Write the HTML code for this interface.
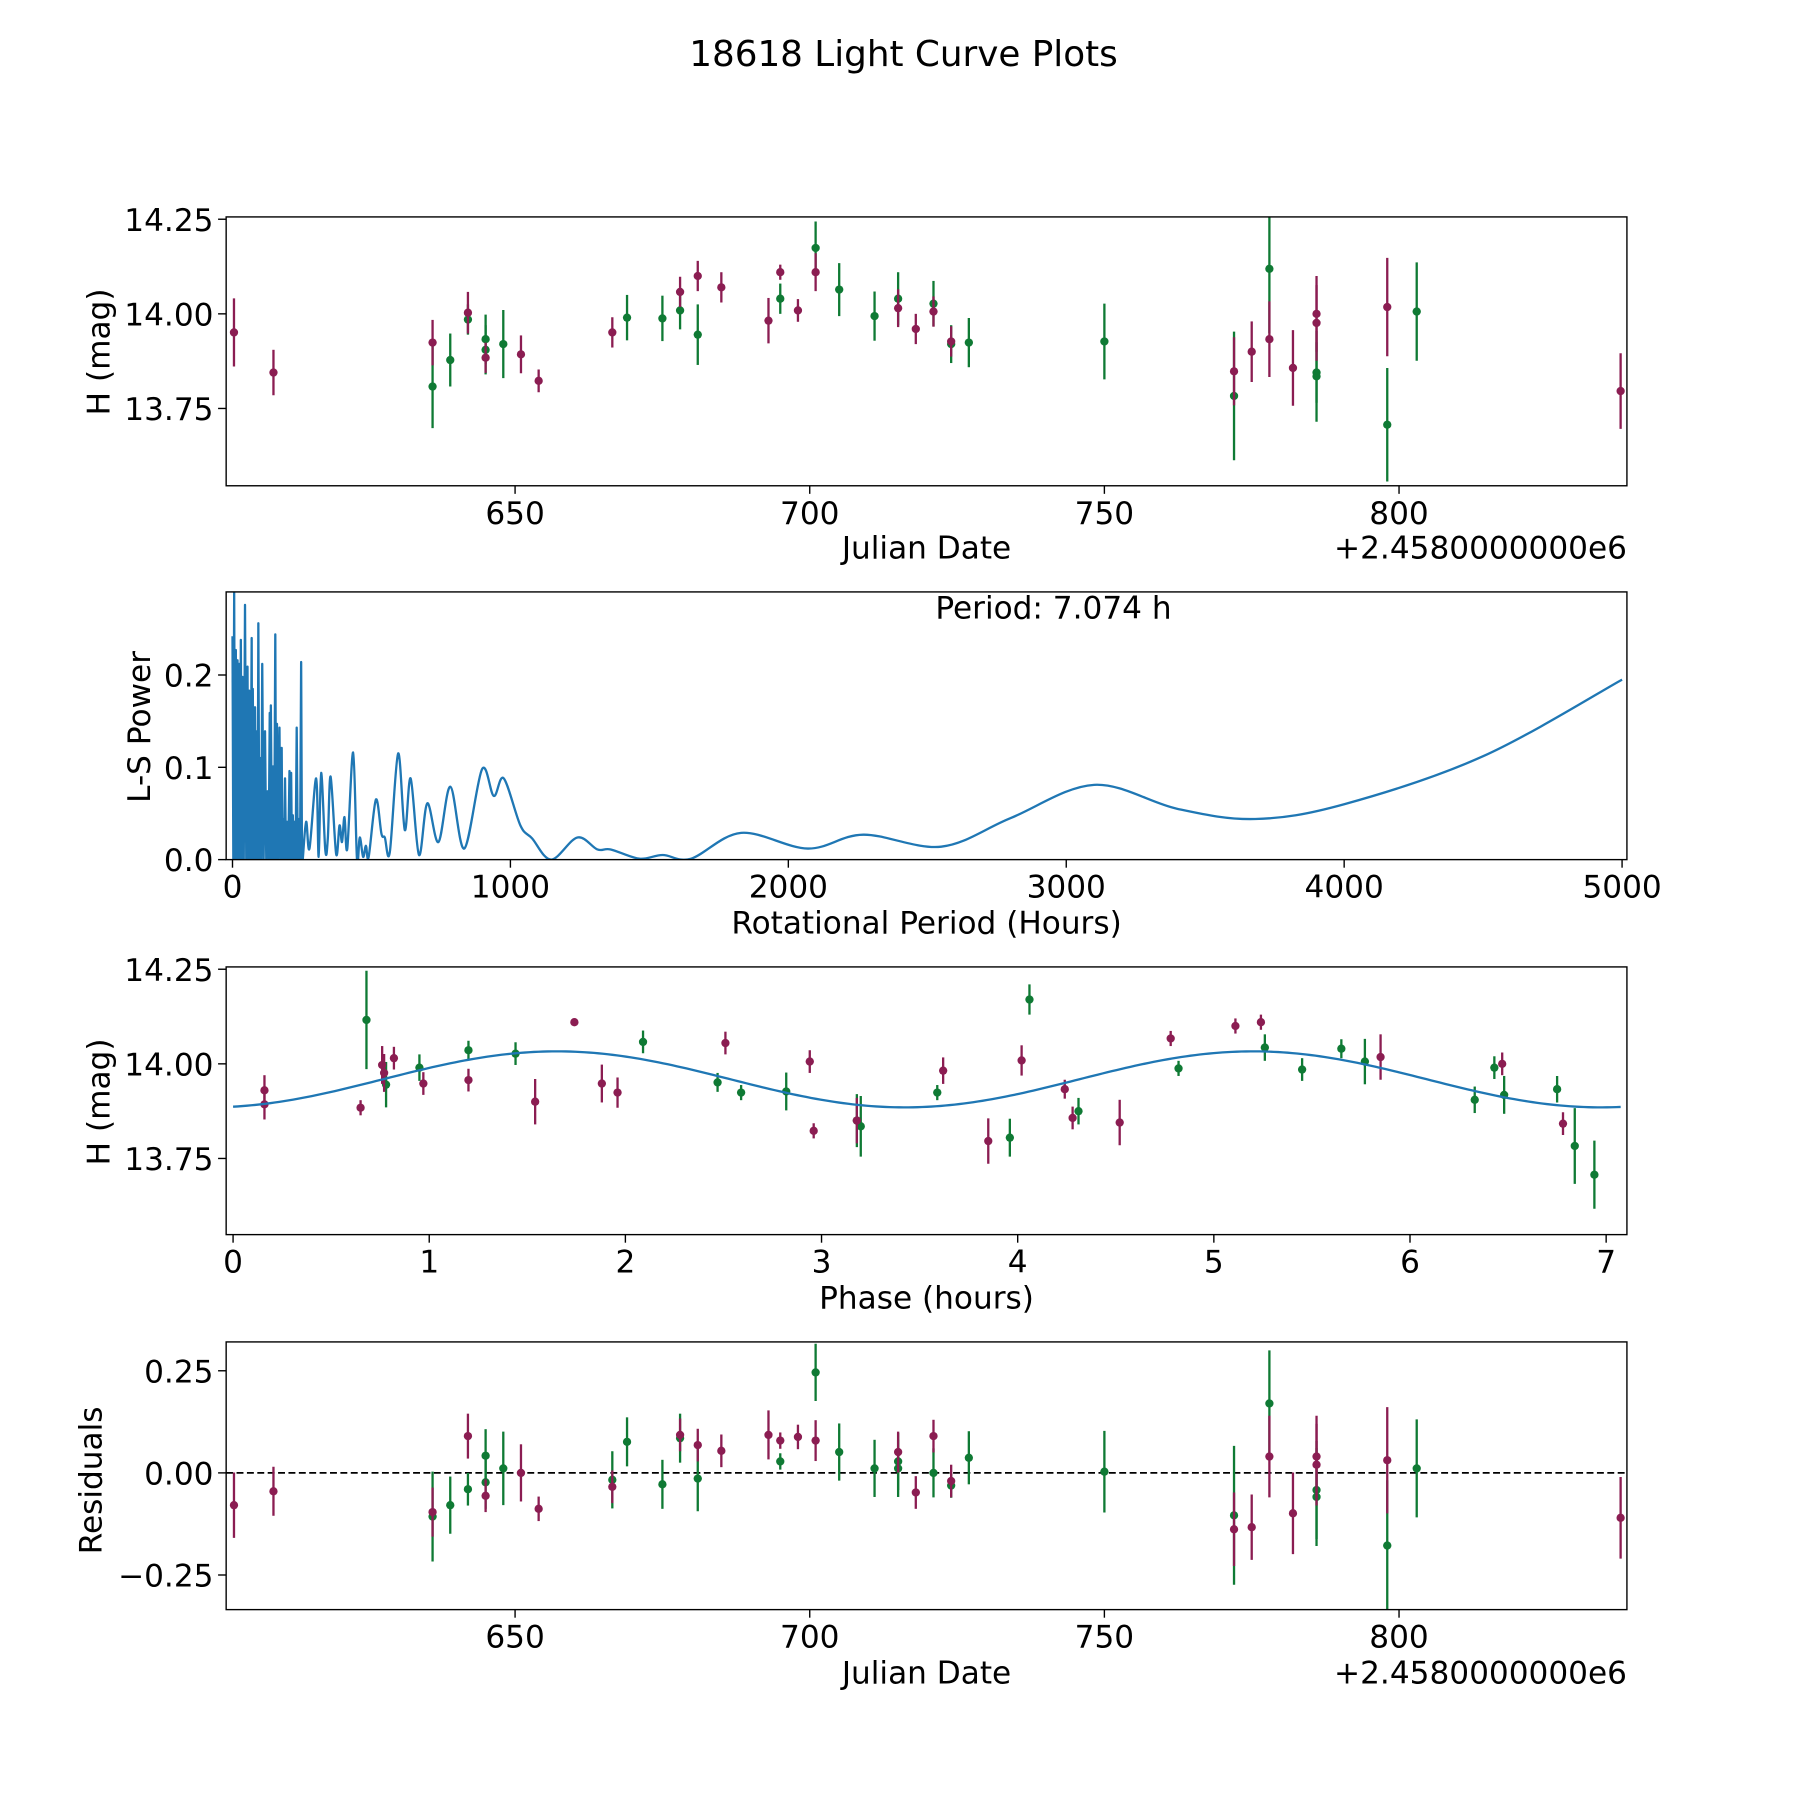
<!DOCTYPE html>
<html><head><meta charset="utf-8"><style>
html,body{margin:0;padding:0;background:#fff;}
svg{display:block;font-family:"DejaVu Sans","Liberation Sans",sans-serif;}
</style></head><body>
<svg id="fig" width="1800" height="1800" viewBox="0 0 1560 1560" xmlns="http://www.w3.org/2000/svg">
<rect width="1560" height="1560" fill="#fff"/>
<text x="783" y="57" font-size="31" text-anchor="middle">18618 Light Curve Plots</text>
<defs>
<clipPath id="c1"><rect x="196" y="188" width="1214" height="233"/></clipPath>
<clipPath id="c2"><rect x="196" y="513" width="1214" height="232"/></clipPath>
<clipPath id="c3"><rect x="196" y="838" width="1214" height="232"/></clipPath>
<clipPath id="c4"><rect x="196" y="1163" width="1214" height="232"/></clipPath>
</defs>
<g id="layer"></g>
</svg>
<script>
// ---- Panel 1: light curve vs Julian Date ----
const lcDates = [636,639,642,645,645,648,669,675,678,681,695,701,705,711,715,721,724,727,750,772,778,786,786,798,803,
 602.3,609,636,642,645,651,654,666.5,678,681,685,693,695,698,701,715,718,721,724,772,775,778,782,786,786,798,837.6];
const lcMags = [13.808,13.878,13.985,13.933,13.905,13.92,13.99,13.988,14.009,13.945,14.04,14.174,14.064,13.994,14.04,14.027,13.92,13.924,13.927,13.783,14.119,13.845,13.835,13.707,14.006,
 13.951,13.845,13.924,14.003,13.884,13.893,13.823,13.951,14.058,14.1,14.07,13.982,14.11,14.009,14.11,14.015,13.96,14.006,13.927,13.848,13.9,13.933,13.857,14.0,13.976,14.018,13.796];
const lcErrs = [0.11,0.07,0.04,0.065,0.065,0.09,0.06,0.06,0.05,0.08,0.04,0.07,0.07,0.065,0.07,0.06,0.05,0.065,0.1,0.17,0.17,0.08,0.12,0.15,0.13,
 0.09,0.06,0.06,0.055,0.04,0.05,0.03,0.04,0.04,0.04,0.04,0.06,0.02,0.03,0.05,0.05,0.04,0.04,0.04,0.09,0.08,0.1,0.1,0.1,0.1,0.13,0.1];
const lcFilters = "ggggggggggggggggggggggggg".split("").concat("mmmmmmmmmmmmmmmmmmmmmmmmmmm".split(""));

// ---- Panel 2: Lomb-Scargle periodogram ----
const spikePeriods = [0,6,12,18,24,30,36,45,54,60,69,73,81,88,93,100,107,117,126,134,138,146,154,160,169,177,182,189,196,205,211,217,223,231,239,247,253];
const spikePowers = [0.242,0.289,0.227,0.216,0.212,0.238,0.198,0.276,0.209,0.183,0.240,0.185,0.165,0.139,0.256,0.110,0.212,0.139,0.074,0.159,0.167,0.101,0.244,0.147,0.143,0.121,0.044,0.088,0.041,0.096,0.094,0.048,0.041,0.143,0.044,0.214,0.001];
const lsPeriods = [265,277,301,310,319,334,343,353,373,385,394,403,413,434,448,458,470,480,490,516,536,548,566,596,620,641,671,701,741,784,834,898,940,976,1036,1078,1147,1241,1313,1361,1464,1548,1650,1830,2070,2270,2550,2800,3100,3400,3680,4000,4500,5000];
const lsPowers = [0.041,0.012,0.088,0.003,0.094,0.010,0.023,0.09,0.006,0.037,0.019,0.046,0.012,0.116,0.0,0.024,0.003,0.015,0.003,0.065,0.028,0.024,0.008,0.115,0.032,0.088,0.005,0.061,0.019,0.079,0.012,0.098,0.069,0.088,0.037,0.023,0.0,0.024,0.011,0.011,0.001,0.005,0.001,0.029,0.012,0.027,0.014,0.045,0.081,0.055,0.044,0.06,0.112,0.195];
const periodLabel = "Period: 7.074 h";

// ---- Panel 3: phased light curve ----
const phPhases = [0.68,0.78,0.95,1.2,1.44,2.09,2.47,2.59,2.82,3.18,3.2,3.59,3.96,4.06,4.31,4.82,5.26,5.45,5.65,5.77,6.33,6.43,6.48,6.75,6.84,6.94,
 0.16,0.16,0.65,0.76,0.77,0.82,0.97,1.2,1.54,1.74,1.88,1.96,2.51,2.94,2.96,3.18,3.62,3.85,4.02,4.24,4.28,4.52,4.78,5.11,5.24,5.85,6.47,6.78];
const phMags = [14.116,13.945,13.99,14.036,14.027,14.058,13.951,13.924,13.927,13.85,13.835,13.924,13.805,14.17,13.875,13.988,14.043,13.985,14.04,14.006,13.905,13.99,13.918,13.933,13.783,13.707,
 13.893,13.93,13.884,13.997,13.976,14.015,13.948,13.957,13.9,14.11,13.948,13.924,14.055,14.006,13.823,13.85,13.982,13.796,14.009,13.933,13.857,13.845,14.067,14.1,14.11,14.018,14.0,13.842];
const phErrs = [0.13,0.06,0.035,0.025,0.03,0.03,0.025,0.02,0.05,0.07,0.08,0.02,0.05,0.04,0.035,0.02,0.035,0.03,0.025,0.06,0.035,0.03,0.05,0.035,0.1,0.09,
 0.04,0.04,0.02,0.05,0.05,0.03,0.03,0.03,0.06,0.01,0.05,0.04,0.03,0.03,0.02,0.06,0.035,0.06,0.04,0.025,0.03,0.06,0.02,0.02,0.02,0.06,0.03,0.03];
const phFilters = "gggggggggggggggggggggggggg".split("").concat("mmmmmmmmmmmmmmmmmmmmmmmmmmmm".split(""));
const fitMean = [13.959];
const fitAmp = [0.074];
const fitPeak = [1.65];
const fitCycle = [3.55];

// ---- Panel 4: residuals ----
const resDates = [636,639,642,645,645,648,666.5,669,675,678,681,695,701,705,711,715,715,721,724,727,750,772,778,786,786,798,803,
 602.3,609,636,642,645,651,654,666.5,678,681,685,693,695,698,701,715,718,721,724,772,775,778,782,786,786,798,837.6];
const resVals = [-0.107,-0.079,-0.04,0.042,-0.023,0.011,-0.017,0.076,-0.028,0.085,-0.014,0.028,0.246,0.051,0.011,0.028,0.011,0.0,-0.031,0.037,0.003,-0.104,0.17,-0.042,-0.059,-0.178,0.011,
 -0.079,-0.045,-0.096,0.09,-0.056,0.0,-0.088,-0.034,0.093,0.068,0.054,0.093,0.079,0.088,0.079,0.051,-0.048,0.09,-0.02,-0.138,-0.133,0.04,-0.099,0.04,0.02,0.031,-0.11];
const resErrs = [0.11,0.07,0.04,0.065,0.065,0.09,0.07,0.06,0.06,0.06,0.08,0.02,0.07,0.07,0.07,0.07,0.07,0.06,0.03,0.065,0.1,0.17,0.13,0.12,0.12,0.16,0.12,
 0.08,0.06,0.06,0.055,0.04,0.07,0.03,0.04,0.04,0.04,0.04,0.06,0.02,0.03,0.05,0.05,0.04,0.04,0.04,0.09,0.08,0.1,0.1,0.1,0.1,0.13,0.1];
const resFilters = "ggggggggggggggggggggggggggg".split("").concat("mmmmmmmmmmmmmmmmmmmmmmmmmmm".split(""));

const xTicksJD = [650,700,750,800];
const yTicksMag = [14.25,14.00,13.75];
const xTicksPeriod = [0,1000,2000,3000,4000,5000];
const yTicksPower = [0.0,0.1,0.2];
const xTicksPhase = [0,1,2,3,4,5,6,7];
const yTicksRes = [0.25,0.0,-0.25];

const NS = "http://www.w3.org/2000/svg";
const layer = document.getElementById("layer");
const COL = {m:"#8b1d52", g:"#0f7a34"};
function lin(d0,d1,p0,p1){return v=>p0+(v-d0)*(p1-p0)/(d1-d0);}
function mk(tag,attrs,parent){const e=document.createElementNS(NS,tag);for(const k in attrs)e.setAttribute(k,attrs[k]);(parent||layer).appendChild(e);return e;}
function fmt(v,d){let s=v.toFixed(d);if(v<0)s="\u2212"+s.slice(1);return s;}

function axes(name,box,sx,sy,xt,xd,yt,yd){
  const g=mk("g",{});
  
  
  xt.forEach(v=>{const x=sx(v);
    const t=mk("line",{x1:x,x2:x,y1:box.y+box.h,y2:box.y+box.h+7,stroke:"#000","stroke-width":1.2},g);
    
    
    const l=mk("text",{x:x,y:box.y+box.h+33,"font-size":27,"text-anchor":"middle"},g);l.textContent=fmt(v,xd);
    
    });
  yt.forEach(v=>{const y=sy(v);
    const t=mk("line",{x1:box.x-7,x2:box.x,y1:y,y2:y,stroke:"#000","stroke-width":1.2},g);
    
    
    const l=mk("text",{x:box.x-11,y:y+10,"font-size":27,"text-anchor":"end"},g);l.textContent=fmt(v,yd);
    
    });
}
function frame(name,box){
  const r=mk("rect",{x:box.x,y:box.y,width:box.w,height:box.h,fill:"none",stroke:"#000","stroke-width":1.2});
  
  
}
function label(txt,x,y,rot,name){
  const t=mk("text",{x:x,y:y,"font-size":27,"text-anchor":"middle"});
  if(rot)t.setAttribute("transform","rotate(-90 "+x+" "+y+")");
  t.textContent=txt;
  
  
  return t;
}
function errPoints(name,clip,xs,ys,es,fs,sx,sy){
  const g=mk("g",{"clip-path":"url(#"+clip+")"});
  
  
  xs.forEach((xv,i)=>{const c=COL[fs[i]];const x=sx(xv);
    const b=mk("line",{x1:x,x2:x,y1:sy(ys[i]-es[i]),y2:sy(ys[i]+es[i]),stroke:c,"stroke-width":2},g);
    
    
    const p=mk("circle",{cx:x,cy:sy(ys[i]),r:3.6,fill:c},g);
    
    });
}

// Panel 1
const b1={x:196,y:188,w:1214,h:233};
const sx1=lin(650,800,446.4,1212.5), sy1=lin(14.25,13.75,190,354);
errPoints("lightcurve","c1",lcDates,lcMags,lcErrs,lcFilters,sx1,sy1);
frame("lightcurve",b1);
axes("lightcurve",b1,sx1,sy1,xTicksJD,0,yTicksMag,2);
label("Julian Date",803,484,false,"lightcurve-x-axis-title");
label("H (mag)",95,305,true,"lightcurve-y-axis-title");
let o1=label("+2.4580000000e6",1410,484,false,"lightcurve-x-offset");o1.setAttribute("text-anchor","end");

// Panel 2
const b2={x:196,y:513,w:1214,h:232};
const sx2=lin(0,5000,201.5,1405.8), sy2=lin(0,0.2,745,585);
{let d="";
 spikePeriods.forEach((p,i)=>{
   const x=sx2(p);
   if(i>0){const xm=(sx2(spikePeriods[i-1])+x)/2;d+=" L"+xm.toFixed(2)+","+sy2(0).toFixed(2);}
   d+=(i?" L":"M")+x.toFixed(2)+","+sy2(spikePowers[i]).toFixed(2);
 });
 const pts=lsPeriods.map((p,i)=>[sx2(p),sy2(lsPowers[i])]);
 const last=[sx2(spikePeriods[spikePeriods.length-1]),sy2(spikePowers[spikePowers.length-1])];
 const all=[last].concat(pts);
 for(let i=1;i<all.length;i++){
   const p0=all[i-2]||all[i-1],p1=all[i-1],p2=all[i],p3=all[i+1]||all[i];
   const c1=[p1[0]+(p2[0]-p0[0])/6,p1[1]+(p2[1]-p0[1])/6],c2=[p2[0]-(p3[0]-p1[0])/6,p2[1]-(p3[1]-p1[1])/6];
   d+=" C"+c1[0].toFixed(2)+","+c1[1].toFixed(2)+" "+c2[0].toFixed(2)+","+c2[1].toFixed(2)+" "+p2[0].toFixed(2)+","+p2[1].toFixed(2);
 }
 const ln=mk("path",{d:d,fill:"none",stroke:"#1f77b4","stroke-width":2,"clip-path":"url(#c2)","stroke-linejoin":"round"});
 
 }
frame("periodogram",b2);
axes("periodogram",b2,sx2,sy2,xTicksPeriod,0,yTicksPower,1);
label("Rotational Period (Hours)",803,809,false,"periodogram-x-axis-title");
label("L-S Power",130,630,true,"periodogram-y-axis-title");
label(periodLabel,913,536,false,"period-annotation");

// Panel 3
const b3={x:196,y:838,w:1214,h:232};
const sx3=lin(0,7,202,1392), sy3=lin(14.25,13.75,840,1004);
errPoints("phased","c3",phPhases,phMags,phErrs,phFilters,sx3,sy3);
{let d="";const P=7.074;for(let k=0;k<=300;k++){const ph=P*k/300;
  const m=fitMean[0]+fitAmp[0]*Math.cos(2*Math.PI*(ph-fitPeak[0])/fitCycle[0]);
  d+=(k?" L":"M")+sx3(ph).toFixed(2)+","+sy3(m).toFixed(2);}
 const c=mk("path",{d:d,fill:"none",stroke:"#1f77b4","stroke-width":2});
 
 }
frame("phased",b3);
axes("phased",b3,sx3,sy3,xTicksPhase,0,yTicksMag,2);
label("Phase (hours)",803,1134,false,"phased-x-axis-title");
label("H (mag)",95,955,true,"phased-y-axis-title");

// Panel 4
const b4={x:196,y:1163,w:1214,h:232};
const sx4=sx1, sy4=lin(0.25,-0.25,1188,1365);
{const z=mk("line",{x1:196,x2:1410,y1:sy4(0),y2:sy4(0),stroke:"#000","stroke-width":1.5,"stroke-dasharray":"6,3"});
 
 }
errPoints("residuals","c4",resDates,resVals,resErrs,resFilters,sx4,sy4);
frame("residuals",b4);
axes("residuals",b4,sx4,sy4,xTicksJD,0,yTicksRes,2);
label("Julian Date",803,1459,false,"residuals-x-axis-title");
label("Residuals",88,1283,true,"residuals-y-axis-title");
let o4=label("+2.4580000000e6",1410,1459,false,"residuals-x-offset");o4.setAttribute("text-anchor","end");
</script>
</body></html>
